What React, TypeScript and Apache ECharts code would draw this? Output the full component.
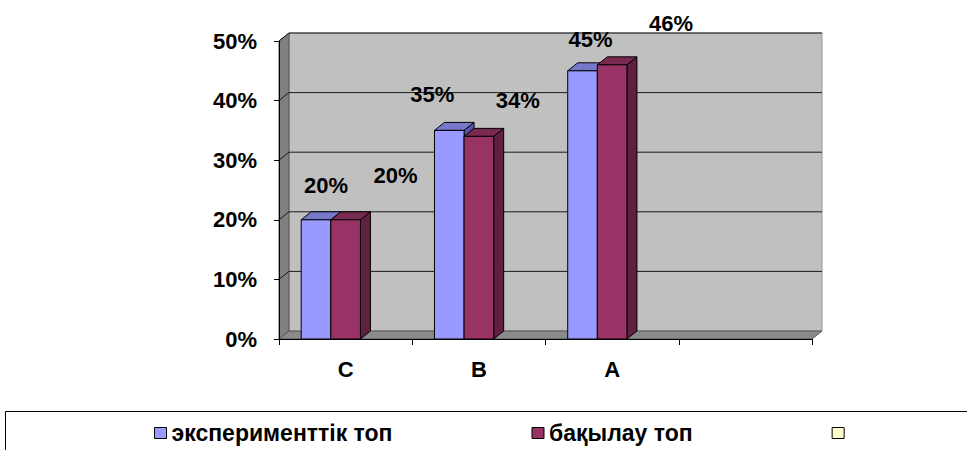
import React, { useEffect, useRef } from "react";
import * as echarts from "echarts";

const categories = ["C", "B", "A", ""];
const seriesNames = ["эксперименттік топ", "бақылау топ", "\u00a0"];
const expValues = [0.2, 0.35, 0.45];
const ctrlValues = [0.2, 0.34, 0.46];
const expLabels = ["20%", "35%", "45%"];
const ctrlLabels = ["20%", "34%", "46%"];

// styling: label shifts relative to each bar's front-top centre
const expLabelShift = [[10, -34], [-17, -36], [8, -31]];
const ctrlLabelShift = [[50, -44], [39, -36], [59, -41]];

const FONT = "'Liberation Sans', Arial, sans-serif";
const DX = 10;
const DY = 8;

function barRenderer(slot: number, front: string, top: string, side: string, labels: string[], shifts: number[][]) {
  return (params: any, api: any) => {
    const idx = api.value(0);
    const val = api.value(1);
    const catW = api.size([1, 0])[0];
    const barW = catW / 4.5;
    const p = api.coord([idx, val]);
    const base = api.coord([idx, 0]);
    const cx = p[0] + (slot - 1) * barW;
    const x0 = cx - barW / 2;
    const x1 = cx + barW / 2;
    const yT = p[1];
    const yB = base[1];
    const sh = shifts[params.dataIndex];
    const line = { stroke: "#000", lineWidth: 1 };
    return {
      type: "group",
      children: [
        {
          type: "polygon",
          shape: { points: [[x1, yT], [x1 + DX, yT - DY], [x1 + DX, yB - DY], [x1, yB]] },
          style: { fill: side, ...line },
        },
        {
          type: "polygon",
          shape: { points: [[x0, yT], [x0 + DX, yT - DY], [x1 + DX, yT - DY], [x1, yT]] },
          style: { fill: top, ...line },
        },
        {
          type: "rect",
          shape: { x: x0, y: yT, width: barW, height: yB - yT },
          style: { fill: front, ...line },
        },
        {
          type: "text",
          x: cx + sh[0],
          y: yT + sh[1],
          style: {
            text: labels[params.dataIndex],
            fill: "#000",
            font: `bold 22px ${FONT}`,
            align: "center",
            verticalAlign: "middle",
          },
        },
      ],
    };
  };
}

function wallRenderer(params: any, api: any) {
  const cs = params.coordSys;
  const x0 = cs.x;
  const x1 = cs.x + cs.width;
  const yT = cs.y;
  const yB = cs.y + cs.height;
  const children: any[] = [
    {
      type: "rect",
      shape: { x: x0 + DX, y: yT - DY, width: x1 - x0, height: yB - yT },
      style: { fill: "#C0C0C0", stroke: "#999", lineWidth: 1 },
    },
    {
      type: "polygon",
      shape: { points: [[x0, yT], [x0 + DX, yT - DY], [x0 + DX, yB - DY], [x0, yB]] },
      style: { fill: "#808080", stroke: "#555", lineWidth: 1 },
    },
    {
      type: "polygon",
      shape: { points: [[x0, yB], [x0 + DX, yB - DY], [x1 + DX, yB - DY], [x1, yB]] },
      style: { fill: "#8A8A8A", stroke: "#555", lineWidth: 1 },
    },
  ];
  for (let v = 1; v <= 5; v++) {
    const y = api.coord([0, v / 10])[1];
    children.push({
      type: "polyline",
      shape: { points: [[x0, y], [x0 + DX, y - DY], [x1 + DX, y - DY]] },
      style: { stroke: "#1a1a1a", lineWidth: 1, fill: null },
    });
  }
  return { type: "group", children };
}

export default function App() {
  const ref = useRef<HTMLDivElement>(null);
  useEffect(() => {
    if (!ref.current) return;
    const chart = echarts.init(ref.current, null, { renderer: "svg" });
    chart.setOption({
      animation: false,
      backgroundColor: "#fff",
      grid: { left: 279, right: 155, top: 41, bottom: 111 },
      xAxis: {
        type: "category",
        data: categories,
        z: 5,
        axisLine: { lineStyle: { color: "#000", width: 1 } },
        axisTick: { show: true, length: 6, lineStyle: { color: "#000" } },
        axisLabel: { color: "#000", fontFamily: FONT, fontWeight: "bold", fontSize: 22, margin: 19 },
        splitLine: { show: false },
      },
      yAxis: {
        type: "value",
        min: 0,
        max: 0.5,
        interval: 0.1,
        z: 5,
        axisLine: { show: true, lineStyle: { color: "#000", width: 1 } },
        axisTick: { show: true, length: 5, lineStyle: { color: "#000" } },
        axisLabel: {
          color: "#000",
          fontFamily: FONT,
          fontWeight: "bold",
          fontSize: 22,
          margin: 22,
          formatter: (v: number) => `${Math.round(v * 100)}%`,
        },
        splitLine: { show: false },
      },
      legend: {
        left: 149,
        top: 416,
        padding: 5,
        itemWidth: 12,
        itemHeight: 11,
        itemGap: 139,
        icon: "rect",
        data: seriesNames,
        selectedMode: false,
        textStyle: { color: "#000", fontFamily: FONT, fontWeight: "bold", fontSize: 23, lineHeight: 24 },
        itemStyle: { borderColor: "#000", borderWidth: 1 },
      },
      graphic: [
        {
          type: "rect",
          shape: { x: 5.5, y: 411.5, width: 1000, height: 100 },
          style: { fill: "none", stroke: "#000", lineWidth: 1 },
          silent: true,
        },
      ],
      series: [
        {
          type: "custom",
          name: "walls",
          z: 1,
          renderItem: wallRenderer,
          data: [[0, 0]],
          silent: true,
        },
        {
          type: "custom",
          name: seriesNames[0],
          z: 2,
          itemStyle: { color: "#9999FF" },
          renderItem: barRenderer(0, "#9999FF", "#7777CC", "#5555AA", expLabels, expLabelShift),
          data: expValues.map((v, i) => [i, v]),
        },
        {
          type: "custom",
          name: seriesNames[1],
          z: 3,
          itemStyle: { color: "#993366" },
          renderItem: barRenderer(1, "#993366", "#7A2951", "#602040", ctrlLabels, ctrlLabelShift),
          data: ctrlValues.map((v, i) => [i, v]),
        },
        {
          type: "custom",
          name: seriesNames[2],
          z: 3,
          itemStyle: { color: "#FFFFCC" },
          renderItem: () => ({ type: "group", children: [] }),
          data: [],
        },
      ],
    });
    return () => chart.dispose();
  }, []);
  return (
    <div
      ref={ref}
      style={{ position: "absolute", left: 0, top: 0, width: 967, height: 450 }}
    />
  );
}
